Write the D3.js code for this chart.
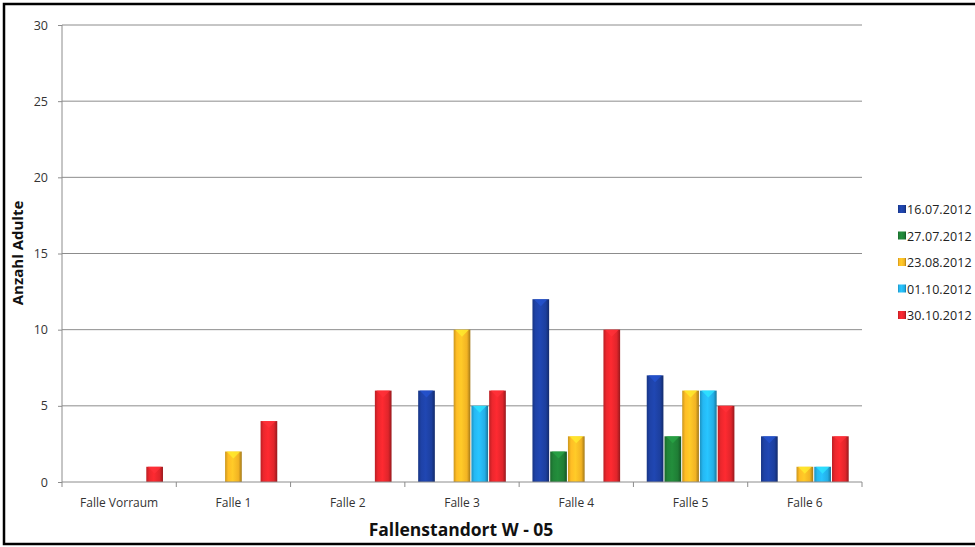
<!DOCTYPE html>
<html>
<head>
<meta charset="utf-8">
<script src="https://cdn.jsdelivr.net/npm/d3@7"></script>
<style>
  html, body { margin: 0; padding: 0; background: #fff; }
  svg { display: block; font-family: "Open Sans", "DejaVu Sans", sans-serif; }
</style>
</head>
<body>
<svg id="chart" width="975" height="547"></svg>
<script>
// Trap locations along the x axis
const categories = ["Falle Vorraum", "Falle 1", "Falle 2", "Falle 3", "Falle 4", "Falle 5", "Falle 6"];
// Sampling dates (one series each)
const seriesNames = ["16.07.2012", "27.07.2012", "23.08.2012", "01.10.2012", "30.10.2012"];
const seriesColors = ["#1c3f9e", "#1f7d35", "#f2b323", "#23aee6", "#e0252b"];
// Adult counts per trap, one array per date
const v16_07 = [0, 0, 0, 6, 12, 7, 3];
const v27_07 = [0, 0, 0, 0, 2, 3, 0];
const v23_08 = [0, 2, 0, 10, 3, 6, 1];
const v01_10 = [0, 0, 0, 5, 0, 6, 1];
const v30_10 = [1, 4, 6, 6, 10, 5, 3];
const seriesValues = [v16_07, v27_07, v23_08, v01_10, v30_10];
const yTicks = [0, 5, 10, 15, 20, 25, 30];

const svg = d3.select("#chart");
const plot = { left: 62, right: 862, top: 25, bottom: 482 };

// Frame around the whole chart
svg.append("rect").attr("x", 4).attr("y", 4).attr("width", 1040).attr("height", 540)
  .attr("fill", "#fff").attr("stroke", "#000").attr("stroke-width", 2.5);

const x = d3.scaleBand().domain(categories).range([plot.left, plot.right]).paddingInner(0).paddingOuter(0);
const inner = d3.scaleBand().domain(d3.range(seriesNames.length)).range([0, x.bandwidth()]).paddingOuter(0.75).paddingInner(0.06);
const y = d3.scaleLinear().domain([0, 30]).range([plot.bottom, plot.top]);

// Horizontal gridlines
svg.append("g").selectAll("line").data(yTicks.filter(d => d > 0)).join("line")
  .attr("x1", plot.left).attr("x2", plot.right)
  .attr("y1", d => y(d)).attr("y2", d => y(d))
  .attr("stroke", "#8c8c8c").attr("stroke-width", 1);

// Gradients for the cylinder-like shading of the bars
const defs = svg.append("defs");
seriesColors.forEach((c, i) => {
  const base = d3.color(c);
  const g = defs.append("linearGradient").attr("id", "grad" + i)
    .attr("x1", "0%").attr("x2", "100%").attr("y1", "0%").attr("y2", "0%");
  g.append("stop").attr("offset", "0%").attr("stop-color", base.darker(0.5));
  g.append("stop").attr("offset", "18%").attr("stop-color", base.brighter(0.15));
  g.append("stop").attr("offset", "45%").attr("stop-color", base.brighter(0.35));
  g.append("stop").attr("offset", "80%").attr("stop-color", base);
  g.append("stop").attr("offset", "100%").attr("stop-color", base.darker(1.1));
});

// Bars
const barData = [];
seriesValues.forEach((vals, si) => {
  vals.forEach((v, ci) => { if (v > 0) barData.push({ si, cat: categories[ci], v }); });
});
const bars = svg.append("g").selectAll("g").data(barData).join("g")
  .attr("transform", d => `translate(${x(d.cat) + inner(d.si)},0)`);
const bw = inner.bandwidth();
bars.append("rect")
  .attr("x", 0).attr("width", bw)
  .attr("y", d => y(d.v)).attr("height", d => y(0) - y(d.v))
  .attr("fill", d => `url(#grad${d.si})`);
// Bevelled top cap
bars.append("path")
  .attr("d", d => {
    const t = y(d.v), h = Math.min(7, (y(0) - y(d.v)) / 2);
    return `M1.5,${t}L${bw - 1.5},${t}L${bw / 2},${t + h}Z`;
  })
  .attr("fill", d => d3.color(seriesColors[d.si]).brighter(0.8))
  .attr("opacity", 0.75);

// Y axis
const yAxis = svg.append("g").attr("transform", `translate(${plot.left},0)`)
  .call(d3.axisLeft(y).tickValues(yTicks).tickSize(4).tickPadding(10));
yAxis.select(".domain").attr("stroke", "#8c8c8c").attr("d", `M0,${plot.top}V${plot.bottom}`);
yAxis.selectAll(".tick line").attr("stroke", "#8c8c8c");
yAxis.selectAll("text").attr("fill", "#333").style("font-size", "12.5px")
  .style("font-family", "'Open Sans', sans-serif");

// X axis
const xAxis = svg.append("g").attr("transform", `translate(0,${plot.bottom})`)
  .call(d3.axisBottom(x).tickSize(0).tickPadding(16));
xAxis.select(".domain").attr("stroke", "#8c8c8c").attr("d", `M${plot.left},0H${plot.right}`);
xAxis.selectAll("text").attr("fill", "#333").style("font-size", "12px")
  .style("font-family", "'Open Sans', sans-serif");
// Category boundary tick marks
svg.append("g").selectAll("line").data(d3.range(categories.length + 1)).join("line")
  .attr("x1", i => plot.left + i * x.bandwidth()).attr("x2", i => plot.left + i * x.bandwidth())
  .attr("y1", plot.bottom).attr("y2", plot.bottom + 5)
  .attr("stroke", "#8c8c8c");

// Axis titles
svg.append("text").attr("x", 461).attr("y", 536).attr("text-anchor", "middle")
  .style("font-size", "17.5px").style("font-weight", "bold").attr("fill", "#111")
  .text("Fallenstandort W - 05");
svg.append("text").attr("transform", "translate(23,253) rotate(-90)").attr("text-anchor", "middle")
  .style("font-size", "15px").style("font-weight", "bold").attr("fill", "#111")
  .text("Anzahl Adulte");

// Legend
const legend = svg.append("g").selectAll("g").data(seriesNames).join("g")
  .attr("transform", (d, i) => `translate(898,${210 + i * 26.5})`);
legend.append("rect").attr("x", 0).attr("y", -5).attr("width", 8).attr("height", 8)
  .attr("fill", (d, i) => `url(#grad${i})`);
legend.append("text").attr("x", 9).attr("y", 4).attr("fill", "#222")
  .style("font-size", "12.5px").style("letter-spacing", "0.1px").text(d => d);
</script>
</body>
</html>
